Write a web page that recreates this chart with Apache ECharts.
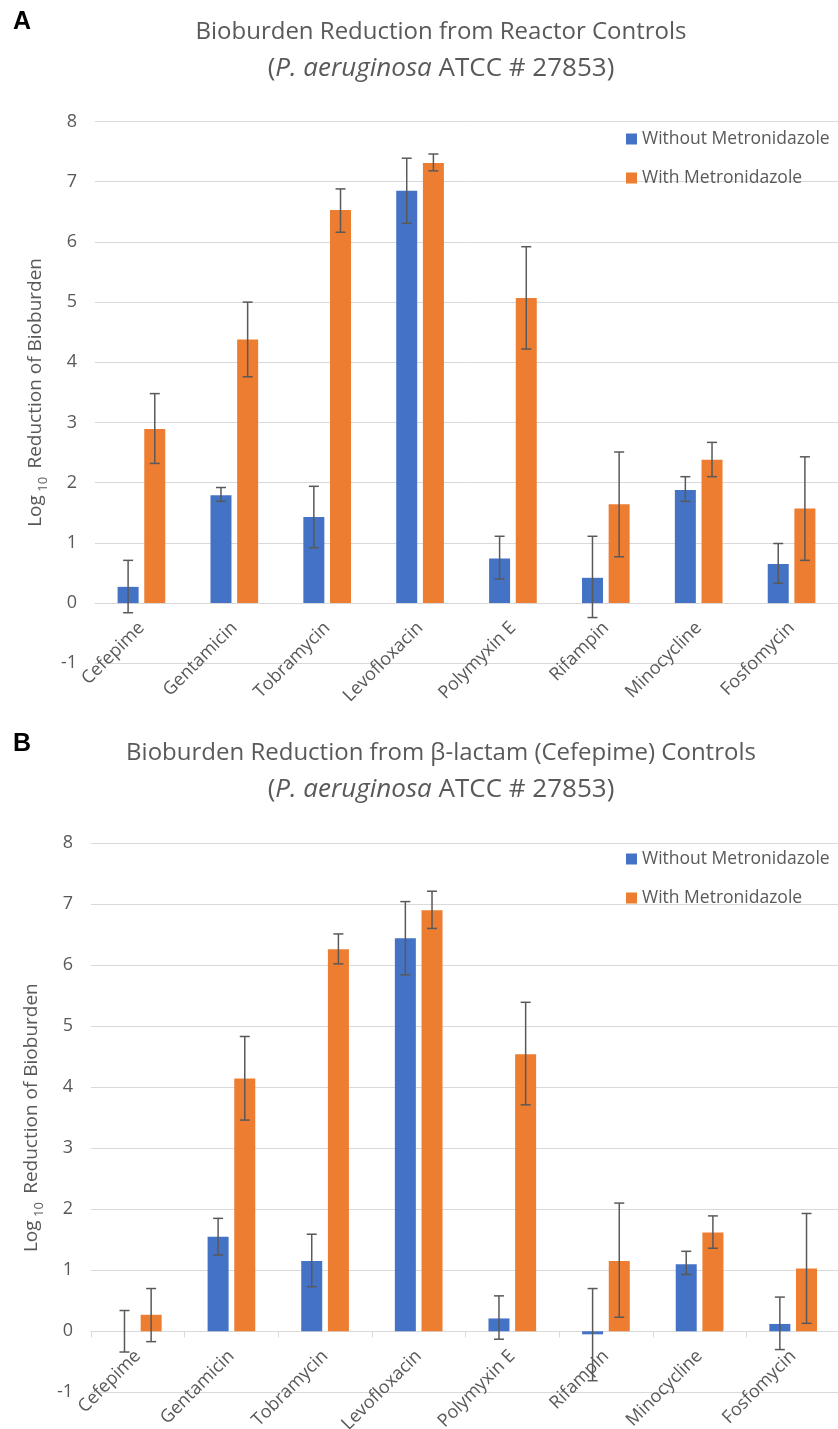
<!DOCTYPE html>
<html>
<head>
<meta charset="utf-8">
<script src="https://cdn.jsdelivr.net/npm/echarts@6/dist/echarts.min.js"></script>
<style>
  html, body { margin: 0; padding: 0; background: #fff; }
  #main { width: 838px; height: 1429px; }
</style>
</head>
<body>
<div id="main"></div>
<script>
// drug names on the x axis
const categories = ['Cefepime', 'Gentamicin', 'Tobramycin', 'Levofloxacin', 'Polymyxin E', 'Rifampin', 'Minocycline', 'Fosfomycin']
const yTicks = [-1, 0, 1, 2, 3, 4, 5, 6, 7, 8]

// panel A - reactor controls
const aWithout = [0.27, 1.79, 1.43, 6.85, 0.74, 0.42, 1.88, 0.65]
const aWithoutLow = [-0.16, 1.69, 0.92, 6.31, 0.40, -0.24, 1.69, 0.33]
const aWithoutHigh = [0.71, 1.92, 1.94, 7.39, 1.11, 1.11, 2.10, 0.99]
const aWith = [2.89, 4.38, 6.53, 7.31, 5.07, 1.64, 2.38, 1.57]
const aWithLow = [2.32, 3.76, 6.16, 7.18, 4.22, 0.77, 2.10, 0.71]
const aWithHigh = [3.48, 5.00, 6.88, 7.46, 5.92, 2.51, 2.67, 2.43]

// panel B - beta-lactam (cefepime) controls
const bWithout = [0, 1.55, 1.15, 6.44, 0.21, -0.05, 1.10, 0.12]
const bWithoutLow = [-0.34, 1.25, 0.73, 5.84, -0.13, -0.81, 0.93, -0.30]
const bWithoutHigh = [0.34, 1.85, 1.59, 7.04, 0.58, 0.70, 1.31, 0.56]
const bWith = [0.27, 4.14, 6.26, 6.90, 4.54, 1.15, 1.62, 1.03]
const bWithLow = [-0.17, 3.46, 6.02, 6.60, 3.71, 0.23, 1.36, 0.13]
const bWithHigh = [0.70, 4.83, 6.51, 7.21, 5.39, 2.10, 1.89, 1.93]

const BLUE = '#4472C4'
const ORANGE = '#ED7D31'
const TXT = '#595959'
const GRID = '#d9d9d9'
const FONT = 'Open Sans'
const BAR_W = 21
const BAR_GAP = 0.27
const OFF = (BAR_W + BAR_W * BAR_GAP) / 2

// grid boxes (px)
const gridA = { left: 95, top: 121.5, width: 743, height: 541.8 }
const gridB = { left: 91, top: 843, width: 749, height: 549.3 }
const unitA = gridA.height / (yTicks.length - 1)
const unitB = gridB.height / (yTicks.length - 1)

var myChart = echarts.init(document.getElementById('main'))

// error bars drawn as custom series: [index, low, high]
const errSeries = (low, high, offset, axisIdx) => {
    return {
        type: 'custom',
        xAxisIndex: axisIdx,
        yAxisIndex: axisIdx,
        silent: true,
        z: 5,
        encode: { x: 0, y: [1, 2] },
        data: low.map((v, i) => [i, v, high[i]]),
        renderItem: (params, api) => {
            const x = api.coord([api.value(0), 0])[0] + offset
            const yl = api.coord([api.value(0), api.value(1)])[1]
            const yh = api.coord([api.value(0), api.value(2)])[1]
            const st = { stroke: TXT, lineWidth: 1.5 }
            return {
                type: 'group',
                children: [
                    { type: 'line', shape: { x1: x, y1: yl, x2: x, y2: yh }, style: st },
                    { type: 'line', shape: { x1: x - 5, y1: yl, x2: x + 5, y2: yl }, style: st },
                    { type: 'line', shape: { x1: x - 5, y1: yh, x2: x + 5, y2: yh }, style: st }
                ]
            }
        }
    }
}

// x axis sits on the zero line: pull it up by one unit (-1 .. 0)
const xAxisOf = (idx, ticks, unit) => ({
    type: 'category',
    gridIndex: idx,
    data: categories,
    position: 'bottom',
    offset: -unit,
    axisLine: { show: true, onZero: false, lineStyle: { color: GRID, width: 1 } },
    axisTick: { show: ticks, length: 6, lineStyle: { color: GRID } },
    axisLabel: { interval: 0, rotate: 45, margin: 22, color: TXT, fontFamily: FONT, fontSize: 18 }
})

const yAxisOf = (idx) => ({
    type: 'value',
    gridIndex: idx,
    min: yTicks[0],
    max: yTicks[yTicks.length - 1],
    interval: 1,
    axisLine: { show: false },
    axisTick: { show: false },
    splitLine: { lineStyle: { color: GRID, width: 1 } },
    axisLabel: { margin: 18, color: TXT, fontFamily: FONT, fontSize: 18 },
    name: 'Log{s| 10 } Reduction of Bioburden',
    nameLocation: 'middle',
    nameGap: 44,
    nameTextStyle: {
        color: TXT, fontFamily: FONT, fontSize: 19, lineHeight: 28,
        rich: { s: { fontSize: 13, lineHeight: 13, verticalAlign: 'bottom', color: TXT, fontFamily: FONT } }
    }
})

const legendOf = (top) => ({
    orient: 'vertical',
    left: 621,
    top: top,
    icon: 'rect',
    itemWidth: 11,
    itemHeight: 11,
    itemGap: 19,
    data: ['Without Metronidazole', 'With Metronidazole'],
    textStyle: { color: TXT, fontFamily: FONT, fontSize: 17.5, lineHeight: 20 }
})

const titleText = (y, txt, size) => ({
    type: 'text',
    x: 441,
    y: y,
    style: {
        text: txt,
        fill: TXT,
        font: size + 'px "' + FONT + '"',
        textAlign: 'center',
        textVerticalAlign: 'middle',
        rich: { i: { fontStyle: 'italic', fontFamily: FONT, fontSize: size, fill: TXT } }
    }
})

const panelLetter = (y, txt) => ({
    type: 'text',
    x: 13,
    y: y,
    style: { text: txt, fill: '#000', font: 'bold 25px "Liberation Sans"', textVerticalAlign: 'middle' }
})

const barSeries = (name, data, color, idx) => ({
    name: name,
    type: 'bar',
    xAxisIndex: idx,
    yAxisIndex: idx,
    data: data,
    barWidth: BAR_W,
    barGap: (BAR_GAP * 100) + '%',
    itemStyle: { color: color }
})

var option = {
    animation: false,
    backgroundColor: '#fff',
    textStyle: { fontFamily: FONT },
    grid: [
        Object.assign({ outerBoundsMode: 'none', containLabel: false }, gridA),
        Object.assign({ outerBoundsMode: 'none', containLabel: false }, gridB)
    ],
    xAxis: [xAxisOf(0, false, unitA), xAxisOf(1, true, unitB)],
    yAxis: [yAxisOf(0), yAxisOf(1)],
    legend: [legendOf(124), legendOf(844)],
    graphic: [
        panelLetter(22, 'A'),
        titleText(32, 'Bioburden Reduction from Reactor Controls', 24),
        titleText(69, '({i|P. aeruginosa} ATCC # 27853)', 26),
        panelLetter(744, 'B'),
        titleText(753.5, 'Bioburden Reduction from β-lactam (Cefepime) Controls', 24),
        titleText(790, '({i|P. aeruginosa} ATCC # 27853)', 26)
    ],
    series: [
        barSeries('Without Metronidazole', aWithout, BLUE, 0),
        barSeries('With Metronidazole', aWith, ORANGE, 0),
        errSeries(aWithoutLow, aWithoutHigh, -OFF, 0),
        errSeries(aWithLow, aWithHigh, OFF, 0),
        barSeries('Without Metronidazole', bWithout, BLUE, 1),
        barSeries('With Metronidazole', bWith, ORANGE, 1),
        errSeries(bWithoutLow, bWithoutHigh, -OFF, 1),
        errSeries(bWithLow, bWithHigh, OFF, 1)
    ]
}
myChart.setOption(option)
</script>
</body>
</html>
